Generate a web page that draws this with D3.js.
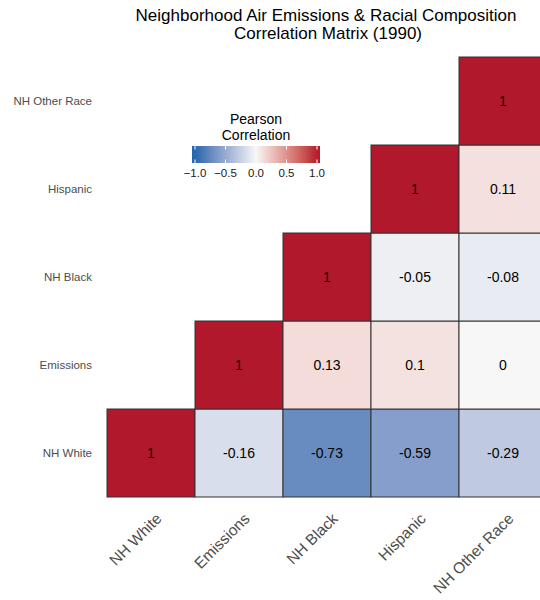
<!DOCTYPE html>
<html>
<head>
<meta charset="utf-8">
<script src="https://cdn.jsdelivr.net/npm/d3@7"></script>
<style>
	body { margin: 0; background: #fff; }
	text { font-family: "Liberation Sans", Arial, sans-serif; }
</style>
</head>
<body>
<script>

var width = 540,
	height = 600,
	//panel edges
	panelLeft = 107,
	panelTop = 57,
	tileSize = 88
;

var vars = ["NH White", "Emissions", "NH Black", "Hispanic", "NH Other Race"];

// upper triangle, one array per row starting at the diagonal
var corNHWhite = [1, -0.16, -0.73, -0.59, -0.29],
	corEmissions = [1, 0.13, 0.1, 0],
	corNHBlack = [1, -0.05, -0.08],
	corHispanic = [1, 0.11],
	corNHOther = [1]
;

var legendTicks = [-1, -0.5, 0, 0.5, 1];

var rows = [corNHWhite, corEmissions, corNHBlack, corHispanic, corNHOther];

var cells = [];
rows.forEach(function(r, i) {
	r.forEach(function(v, k) {
		cells.push({row: vars[i], col: vars[i + k], value: v});
	});
});

var xScale = d3.scaleBand()
	.domain(vars)
	.range([panelLeft, panelLeft + tileSize * vars.length]);

var yScale = d3.scaleBand()
	.domain(vars.slice().reverse())
	.range([panelTop, panelTop + tileSize * vars.length]);

var color = d3.scaleLinear()
	.domain([-1, 0, 1])
	.range(["#2166AC", "#F7F7F7", "#B2182B"])
	.interpolate(d3.interpolateLab);

var svg = d3.select("body")
	.append("svg")
	.attr("width", width)
	.attr("height", height);

//title
svg.append("text")
	.attr("x", 326)
	.attr("y", 21)
	.attr("text-anchor", "middle")
	.style("font-size", "17px")
	.text("Neighborhood Air Emissions & Racial Composition");

svg.append("text")
	.attr("x", 328)
	.attr("y", 39)
	.attr("text-anchor", "middle")
	.style("font-size", "17px")
	.text("Correlation Matrix (1990)");

//tiles
svg.selectAll("rect.tile")
	.data(cells)
	.enter()
	.append("rect")
	.attr("class", "tile")
	.attr("x", function(d) { return xScale(d.col); })
	.attr("y", function(d) { return yScale(d.row); })
	.attr("width", xScale.bandwidth())
	.attr("height", yScale.bandwidth())
	.attr("fill", function(d) { return color(d.value); })
	.attr("stroke", "#333")
	.attr("stroke-width", 1)
;

svg.selectAll("text.val")
	.data(cells)
	.enter()
	.append("text")
	.attr("class", "val")
	.attr("x", function(d) { return xScale(d.col) + xScale.bandwidth() / 2; })
	.attr("y", function(d) { return yScale(d.row) + yScale.bandwidth() / 2; })
	.attr("dy", "0.36em")
	.attr("text-anchor", "middle")
	.style("font-size", "14px")
	.attr("fill", "#000")
	.text(function(d) { return d.value; })
;

//y labels
svg.append("g")
	.selectAll("text")
	.data(vars)
	.enter()
	.append("text")
	.attr("x", panelLeft - 15)
	.attr("y", function(d) { return yScale(d) + yScale.bandwidth() / 2; })
	.attr("dy", "0.36em")
	.attr("text-anchor", "end")
	.style("font-size", "11.5px")
	.attr("fill", "#4D4D4D")
	.text(function(d) { return d; })
;

//x labels, rotated
svg.append("g")
	.selectAll("text")
	.data(vars)
	.enter()
	.append("text")
	.attr("transform", function(d) {
		return "translate(" + (xScale(d) + xScale.bandwidth() / 2 + 4) + "," + (panelTop + tileSize * vars.length + 15) + ") rotate(-45)";
	})
	.attr("text-anchor", "end")
	.attr("dy", "0.7em")
	.style("font-size", "15.5px")
	.attr("fill", "#4D4D4D")
	.text(function(d) { return d; })
;

//legend
var legX = d3.scaleLinear()
	.domain([-1, 1])
	.range([195, 317]);

var barLeft = 192, barRight = 320, barTop = 146, barH = 17;

var grad = svg.append("defs")
	.append("linearGradient")
	.attr("id", "corgrad")
	.attr("x1", "0%").attr("x2", "100%")
	.attr("y1", "0%").attr("y2", "0%");

d3.range(0, 21).forEach(function(i) {
	var px = barLeft + (barRight - barLeft) * i / 20;
	var v = Math.max(-1, Math.min(1, legX.invert(px)));
	grad.append("stop")
		.attr("offset", (i * 5) + "%")
		.attr("stop-color", color(v));
});

svg.append("text")
	.attr("x", 256)
	.attr("y", 124)
	.attr("text-anchor", "middle")
	.style("font-size", "14px")
	.text("Pearson");

svg.append("text")
	.attr("x", 256)
	.attr("y", 140)
	.attr("text-anchor", "middle")
	.style("font-size", "14px")
	.text("Correlation");

svg.append("rect")
	.attr("x", barLeft)
	.attr("y", barTop)
	.attr("width", barRight - barLeft)
	.attr("height", barH)
	.attr("fill", "url(#corgrad)");

legendTicks.forEach(function(t) {
	svg.append("line")
		.attr("x1", legX(t)).attr("x2", legX(t))
		.attr("y1", barTop).attr("y2", barTop + 3.5)
		.attr("stroke", "#fff")
		.attr("stroke-width", 1);
	svg.append("line")
		.attr("x1", legX(t)).attr("x2", legX(t))
		.attr("y1", barTop + barH - 3.5).attr("y2", barTop + barH)
		.attr("stroke", "#fff")
		.attr("stroke-width", 1);
	svg.append("text")
		.attr("x", legX(t))
		.attr("y", barTop + barH + 14)
		.attr("text-anchor", "middle")
		.style("font-size", "11.5px")
		.attr("fill", "#1a1a1a")
		.text(d3.format(".1f")(t));
});

</script>
</body>
</html>
